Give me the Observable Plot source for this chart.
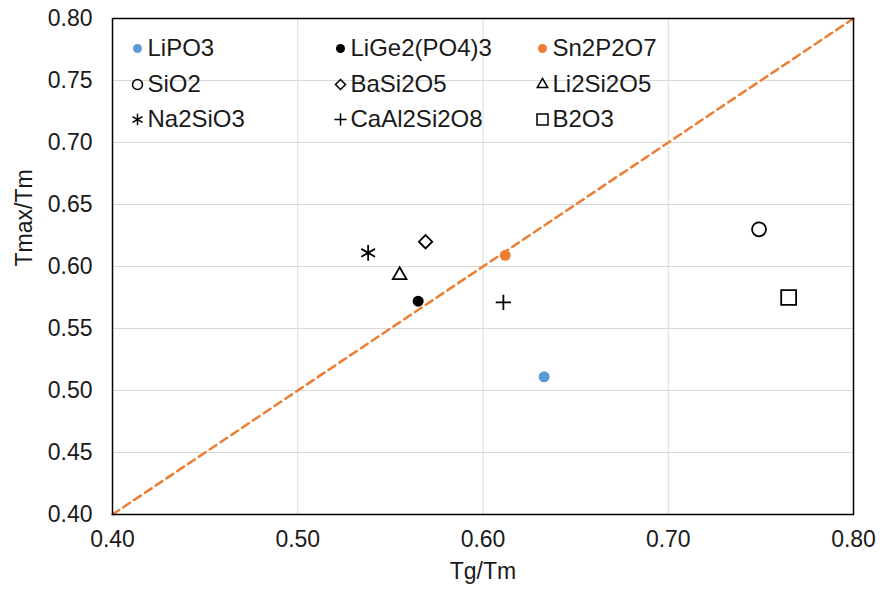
<!DOCTYPE html>
<html>
<head>
<meta charset="utf-8">
<script src="https://cdn.jsdelivr.net/npm/d3@7"></script>
<script src="https://cdn.jsdelivr.net/npm/@observablehq/plot@0.6"></script>
<style>
  html, body { margin: 0; padding: 0; background: #fff; }
  #chart { width: 880px; height: 594px; }
</style>
</head>
<body>
<div id="chart"></div>
<script>
// ---- Data ----
const materials = ["LiPO3", "LiGe2(PO4)3", "Sn2P2O7", "SiO2", "BaSi2O5", "Li2Si2O5", "Na2SiO3", "CaAl2Si2O8", "B2O3"];
const tgTm   = [0.633, 0.565, 0.612, 0.749, 0.569, 0.555, 0.538, 0.611, 0.765];
const tmaxTm = [0.511, 0.572, 0.609, 0.630, 0.620, 0.593, 0.611, 0.571, 0.575];
const xTicks = [0.40, 0.50, 0.60, 0.70, 0.80];
const yTicks = [0.40, 0.45, 0.50, 0.55, 0.60, 0.65, 0.70, 0.75, 0.80];
const diagonal = [0.40, 0.80];

// ---- Styles (separate from data) ----
const style = {
  "LiPO3":       {symbol: "circle",    fill: "#5B9BD5", r: 5.5, lr: 4.5},
  "LiGe2(PO4)3": {symbol: "circle",    fill: "#000000", r: 5.5, lr: 4.5},
  "Sn2P2O7":     {symbol: "circle",    fill: "#ED7D31", r: 5.5, lr: 4.5},
  "SiO2":        {symbol: "circle",    stroke: "#000", r: 7,   lr: 5},
  "BaSi2O5":     {symbol: "diamond2",  stroke: "#000", r: 6,   lr: 4.5},
  "Li2Si2O5":    {symbol: "triangle2", stroke: "#000", r: 6.5, lr: 5},
  "Na2SiO3":     {symbol: "asterisk",  stroke: "#000", r: 7.5, lr: 5.5},
  "CaAl2Si2O8":  {symbol: "plus",      stroke: "#000", r: 5,   lr: 4},
  "B2O3":        {symbol: "square2",   stroke: "#000", r: 9.5, lr: 7}
};
const legendCols = [25, 228, 430];
const legendRows = [30, 66, 101];

const rows = materials.map((m, i) => ({name: m, x: tgTm[i], y: tmaxTm[i]}));

const FONT = "'Liberation Sans', Arial, sans-serif";
const TXT = "#1a1a1a";

const marks = [
  Plot.gridX(xTicks, {stroke: "#d9d9d9", strokeOpacity: 1, strokeWidth: 1}),
  Plot.gridY(yTicks, {stroke: "#d9d9d9", strokeOpacity: 1, strokeWidth: 1}),
  Plot.axisX(xTicks, {tickSize: 0, tickPadding: 16, tickFormat: d3.format(".2f"), fontSize: 23, fill: TXT, label: null}),
  Plot.axisY(yTicks, {tickSize: 0, tickPadding: 20, tickFormat: d3.format(".2f"), fontSize: 23, fill: TXT, label: null}),
  Plot.text(["Tg/Tm"], {frameAnchor: "bottom", dy: 64, fontSize: 23, fill: TXT}),
  Plot.text(["Tmax/Tm"], {frameAnchor: "left", dx: -88, rotate: -90, fontSize: 23, fill: TXT}),
  Plot.line(diagonal, {x: d => d, y: d => d, stroke: "#ED7D31", strokeWidth: 2.5, strokeDasharray: "8,5"}),
  Plot.frame({stroke: "#000", strokeWidth: 1.5})
];

rows.forEach(d => {
  const s = style[d.name];
  marks.push(Plot.dot([d], {
    x: "x", y: "y", symbol: s.symbol, r: s.r,
    fill: s.fill || "none", stroke: s.stroke || "none", strokeWidth: 1.8
  }));
});

// Legend inside plot (3 columns x 3 rows)
materials.forEach((m, i) => {
  const s = style[m];
  const col = i % 3, row = Math.floor(i / 3);
  marks.push(Plot.dot([m], {
    frameAnchor: "top-left", dx: legendCols[col], dy: legendRows[row],
    symbol: s.symbol, r: s.lr, fill: s.fill || "none", stroke: s.stroke || "none", strokeWidth: 1.5
  }));
  marks.push(Plot.text([m], {
    frameAnchor: "top-left", dx: legendCols[col] + 10, dy: legendRows[row],
    textAnchor: "start", lineAnchor: "middle", fontSize: 24, fill: TXT
  }));
});

const chart = Plot.plot({
  width: 880,
  height: 594,
  marginLeft: 112,
  marginRight: 27,
  marginTop: 18,
  marginBottom: 80,
  style: {fontFamily: FONT, background: "#fff"},
  x: {domain: [0.4, 0.8]},
  y: {domain: [0.4, 0.8]},
  marks
});
document.getElementById("chart").appendChild(chart);
</script>
</body>
</html>
